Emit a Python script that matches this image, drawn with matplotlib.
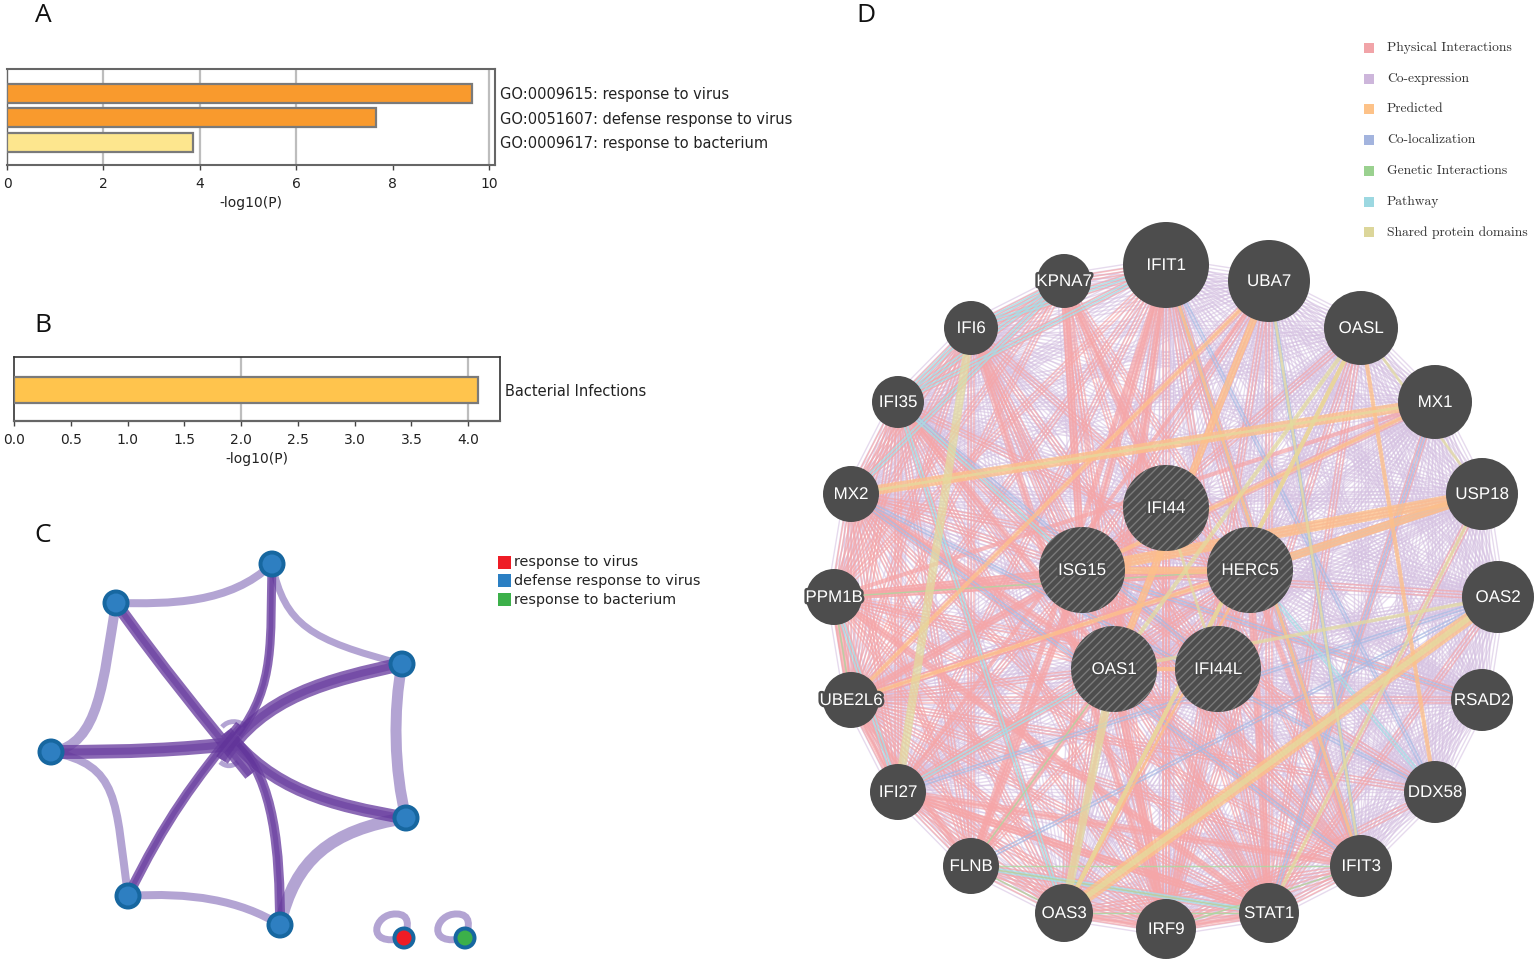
import matplotlib
matplotlib.use("Agg")
import matplotlib.pyplot as plt
import matplotlib.patheffects as pe
from matplotlib.collections import LineCollection
from matplotlib.patches import Circle, PathPatch, Rectangle
from matplotlib.path import Path
import numpy as np

# ---------- data ----------
go_terms = ["GO:0009615: response to virus", "GO:0051607: defense response to virus", "GO:0009617: response to bacterium"]
go_values = [9.65, 7.66, 3.86]
go_colors = ["#F99A2D", "#F99A2D", "#FDE68E"]
go_ticks = [0, 2, 4, 6, 8, 10]
kegg_terms = ["Bacterial Infections"]
kegg_values = [4.09]
kegg_ticks = [0, 0.5, 1, 1.5, 2, 2.5, 3, 3.5, 4]

c_nodes = [(272, 564), (116, 603), (402, 664), (51, 752), (406, 818), (128, 896), (280, 925)]
c_light = [
    (1, 0, (170, 604), (230, 604), 8), (0, 2, (285, 625), (310, 640), 7), (2, 4, (393, 710), (394, 770), 11),
    (4, 6, (330, 830), (295, 860), 12), (6, 5, (240, 900), (190, 892), 8), (5, 3, (115, 800), (120, 765), 8),
    (3, 1, (100, 745), (103, 680), 10),
]
# node, control 1, control 2, meeting point near the hub, width
c_dark = [
    (1, (160, 665), (205, 720), (250, 775), 12), (4, (330, 805), (272, 790), (226, 732), 13),
    (3, (130, 752), (180, 750), (240, 743), 14), (2, (330, 680), (262, 695), (222, 760), 14),
    (0, (270, 640), (276, 685), (238, 735), 9), (5, (165, 820), (195, 780), (240, 725), 10),
    (6, (280, 850), (274, 780), (238, 744), 10),
]
c_hub_loops = [((222, 727), (228, 720), (238, 720), (246, 726)), ((220, 762), (226, 767), (232, 767), (238, 762))]
c_loops = [(404, 938, "#EE1C25"), (465, 938, "#3CB04A")]
c_legend = [("response to virus", "#EE1C25"), ("defense response to virus", "#2B7FC3"), ("response to bacterium", "#3CB04A")]

genes = ["IFIT1", "UBA7", "OASL", "MX1", "USP18", "OAS2", "RSAD2", "DDX58", "IFIT3", "STAT1", "IRF9", "OAS3", "FLNB",
         "IFI27", "UBE2L6", "PPM1B", "MX2", "IFI35", "IFI6", "KPNA7", "IFI44", "ISG15", "HERC5", "OAS1", "IFI44L"]
gene_x = [1166, 1269, 1361, 1435, 1482, 1498, 1482, 1435, 1361, 1269, 1166, 1064, 971, 898, 851, 834, 851, 898, 971, 1064,
          1166, 1082, 1250, 1114, 1218]
gene_y = [265, 281, 328, 402, 494, 597, 700, 792, 866, 913, 929, 913, 866, 792, 700, 597, 494, 402, 328, 281,
          508, 570, 570, 669, 669]
gene_r = [43, 41, 37, 37, 36, 36, 31, 31, 31, 30, 30, 29, 28, 28, 28, 28, 28, 26, 27, 27, 43, 43, 43, 43, 43]
query_genes = ["IFI44", "ISG15", "HERC5", "OAS1", "IFI44L"]
letters = "ABCDEFGHIJKLMNOPQRSTUVWXY"

coexpression = ["A:BCDEFGHIJKLNOQRSUVWXY", "B:CDEFGHIJKLNOQRSUVWXY", "C:DEFGHIJKLNOQRSUVWXY", "D:EFGHIJKLNOQRSUVWXY",
                "E:FGHIJKLNOQRSUVWXY", "F:GHIJKLNOQRSUVWXY", "G:HIJKLNOQRSUVWXY", "H:IJKLNOQRSUVWXY", "I:JKLNOQRSUVWXY",
                "J:KLNOQRSUVWXY", "K:LNOQRSUVWXY", "L:NOQRSUVWXY", "N:OQRSUVWXY", "O:QRSUVWXY", "Q:RSUVWXY", "R:SUVWXY",
                "S:UVWXY", "U:VWXY", "V:WXY", "W:XY", "X:Y", "T:ABQRSUV", "M:LNOKJRS", "P:NOQRSGH"]
physical = ["A:IJKLNOPRSTVWX", "B:JKOVX", "C:JKV", "D:JV", "E:VJO", "F:JV", "G:VO",
            "H:KVO", "I:JKLNOPQRSTVX", "J:KLMNOPQRSTVWXY", "K:LMNOPQRSTVWXY", "L:MNOPQRVW", "M:NOQRSVWX",
            "N:OPQRVWXJ", "O:PQRSTVWX", "P:QRSTVWXY", "Q:RSTVWX", "R:STVWX", "S:TVWX", "T:VWXU", "V:WXY", "W:XY", "U:VK"]
physical_thick = [("V", "M", 4), ("V", "T", 5), ("V", "O", 4), ("V", "P", 5), ("X", "K", 5), ("X", "L", 3), ("X", "M", 4),
                  ("W", "I", 4), ("W", "J", 4), ("U", "T", 3), ("A", "V", 3), ("A", "X", 3), ("P", "J", 4), ("P", "W", 5),
                  ("P", "D", 3), ("N", "J", 4), ("N", "I", 3), ("M", "A", 4), ("O", "P", 5), ("L", "K", 3), ("K", "J", 3),
                  ("O", "N", 3), ("O", "M", 3), ("B", "N", 3), ("S", "K", 3), ("R", "X", 3), ("Q", "X", 3)]
colocalization = ["A:IH", "B:I", "D:J", "E:W", "F:M", "I:Q", "N:F", "G:V", "H:Q", "Y:R"]
pathway = ["T:RSQ", "S:AR", "R:V", "A:R", "N:X", "M:J", "H:W", "L:R", "P:N"]
genetic = ["M:JLI", "P:OW", "M:X", "L:J", "K:I"]
predicted_thick = [("D", "Q", 7), ("E", "V", 8), ("W", "E", 6), ("F", "L", 9), ("B", "X", 5), ("C", "L", 3), ("O", "W", 3),
                   ("A", "I", 2.5), ("C", "H", 3), ("V", "W", 5), ("X", "Y", 3), ("B", "O", 3), ("D", "V", 3), ("L", "W", 2)]
domain_thick = [("S", "N", 6), ("X", "L", 6), ("F", "L", 4), ("C", "L", 3), ("D", "Q", 2), ("U", "Y", 2), ("C", "X", 3),
                ("C", "E", 2), ("E", "J", 2.5), ("F", "X", 2.5), ("B", "I", 2)]
d_legend = [("Physical Interactions", "#F1A4A8"), ("Co-expression", "#CDB6DB"), ("Predicted", "#FDC288"),
            ("Co-localization", "#A3B4DE"), ("Genetic Interactions", "#9AD18F"), ("Pathway", "#9CD8E1"),
            ("Shared protein domains", "#DCD69A")]
panel_letters = [("A", 43, 15), ("B", 43, 325), ("C", 43, 536), ("D", 866, 15)]

# ---------- figure ----------
W, H = 1535, 960
fig = plt.figure(figsize=(W / 100, H / 100), dpi=100)
plt.rcParams["hatch.linewidth"] = 1.0

bg = fig.add_axes([0, 0, 1, 1])
bg.set_xlim(0, W)
bg.set_ylim(H, 0)
bg.axis("off")


def px_axes(l, t, r, b):
    return fig.add_axes([l / W, 1 - b / H, (r - l) / W, (b - t) / H])


def bar_panel(ax, terms, values, colors, ticks, height, tickfmt):
    y = np.arange(len(terms))
    ax.grid(axis="x", color="#bdbdbd", lw=1.6, zorder=0)
    ax.set_axisbelow(True)
    ax.barh(y, values, height=height, color=colors, edgecolor="#7a7a7a", lw=1.6, zorder=3)
    ax.set_xticks(ticks)
    ax.set_xticklabels([tickfmt % t for t in ticks], fontsize=10, color="#222222")
    ax.yaxis.tick_right()
    ax.set_yticks(y)
    ax.set_yticklabels(terms, fontsize=10.5, color="#222222")
    ax.tick_params(axis="y", length=0, pad=3.6)
    ax.tick_params(axis="x", length=3.5, width=1, color="#444444", pad=5)
    ax.set_xlabel("-log10(P)", fontsize=10, color="#222222", labelpad=3.5)


# Panel A
axA = px_axes(7, 69, 495, 165)
bar_panel(axA, go_terms, go_values, go_colors, go_ticks, 0.78, "%d")
axA.set_xlim(0, 10.12)
axA.set_ylim(2.94, -1.0)
for s in axA.spines.values():
    s.set_color("#666666")
    s.set_linewidth(1.5)
axA.spines["left"].set_linewidth(1.0)

# Panel B
axB = px_axes(14, 357, 500, 421)
bar_panel(axB, kegg_terms, kegg_values, ["#FFC44D"], kegg_ticks, 0.52, "%.1f")
axB.set_xlim(0, 4.28)
axB.set_ylim(0.62, -0.66)
axB.set_xticks([2, 4], minor=False) if False else None
for s in axB.spines.values():
    s.set_color("#333333")
    s.set_linewidth(1.2)
axB.spines["bottom"].set_color("#666666")
axB.spines["bottom"].set_linewidth(1.6)
for gl, t in zip(axB.get_xgridlines(), kegg_ticks):
    gl.set_visible(t in (2, 4))
for gl, t in zip(axA.get_xgridlines(), go_ticks):
    gl.set_visible(t in (2, 4, 6, 10))


# Panel C
def bez(p0, c1, c2, p1):
    return Path([p0, c1, c2, p1], [Path.MOVETO, Path.CURVE4, Path.CURVE4, Path.CURVE4])


for a, b, c1, c2, w in c_light:
    bg.add_patch(PathPatch(bez(c_nodes[a], c1, c2, c_nodes[b]), fc="none", ec="#B3A4D3", lw=w * 0.72,
                           capstyle="butt", zorder=2))
for p in c_hub_loops:
    bg.add_patch(PathPatch(bez(*p), fc="none", ec="#B3A4D3", lw=3.5, capstyle="butt", zorder=2))
for n, c1, c2, hub, w in c_dark:
    bg.add_patch(PathPatch(bez(c_nodes[n], c1, c2, hub), fc="none", ec="#6A3FA0", lw=w * 0.72, alpha=0.78,
                           capstyle="butt", zorder=3))
    bg.add_patch(PathPatch(bez(c_nodes[n], c1, c2, hub), fc="none", ec="#5B2C96", lw=w * 0.36, alpha=0.45,
                           capstyle="butt", zorder=3))
for x, y in c_nodes:
    bg.add_patch(Circle((x, y), 13.5, fc="#1767A0", ec="none", zorder=5))
    bg.add_patch(Circle((x, y), 9.5, fc="#2E7FC1", ec="none", zorder=6))
for x, y, col in c_loops:
    verts = [(x, y), (x - 40, y + 10), (x - 30, y - 25), (x - 8, y - 24), (x + 6, y - 24), (x + 5, y - 12), (x, y)]
    bg.add_patch(PathPatch(Path(verts, [Path.MOVETO] + [Path.CURVE4] * 6), fc="none", ec="#B3A4D3", lw=5, zorder=2))
    bg.add_patch(Circle((x, y), 11.5, fc="#1767A0", ec="none", zorder=5))
    bg.add_patch(Circle((x, y), 7.5, fc=col, ec="none", zorder=6))
for i, (lab, col) in enumerate(c_legend):
    yc = 562 + i * 18.8
    bg.add_patch(Rectangle((498, yc - 6.5), 13, 13, fc=col, ec="none"))
    bg.text(514, yc, lab, fontsize=10.4, va="center", ha="left", color="#222222")

# Panel D
pos = {l: (gene_x[i], gene_y[i]) for i, l in enumerate(letters)}


def parse(adj):
    return [(s[0], t) for s in adj for t in s[2:]]


def add_edges(pairs, color, lw, alpha, n, gap, z):
    segs = []
    lws = []
    for p in pairs:
        a, b = np.array(pos[p[0]], float), np.array(pos[p[1]], float)
        w = p[2] if len(p) > 2 else lw
        count = n if len(p) == 2 else 1
        d = (b - a) / np.linalg.norm(b - a)
        nrm = np.array([-d[1], d[0]])
        for k in range(count):
            off = (k - (count - 1) / 2) * gap
            segs.append([a + nrm * off, b + nrm * off])
            lws.append(w)
    bg.add_collection(LineCollection(segs, colors=color, linewidths=lws, alpha=alpha, zorder=z, capstyle="butt"))


add_edges(parse(coexpression), "#D6C2E2", 1.0, 0.6, 5, 3.5, 2)
add_edges(parse(colocalization), "#A9BBE4", 1.2, 0.75, 2, 3, 2.5)
add_edges(parse(pathway), "#A6DDE6", 1.2, 0.8, 2, 3, 2.5)
add_edges(parse(physical), "#F6A6A8", 1.1, 0.68, 3, 3.0, 2.4)
add_edges(physical_thick, "#F6A6A8", 1, 0.72, 1, 0, 2.4)
add_edges(parse(genetic), "#A8DCA0", 1.0, 0.8, 1, 0, 2.6)
add_edges(predicted_thick, "#FDC08A", 1, 0.78, 1, 0, 2.7)
add_edges(domain_thick, "#E3DC9E", 1, 0.72, 1, 0, 2.8)

for g, x, y, r in zip(genes, gene_x, gene_y, gene_r):
    q = g in query_genes
    bg.add_patch(Circle((x, y), r, fc="#4D4D4D", ec="#7A7A7A" if q else "#4D4D4D", lw=0,
                        hatch="////" if q else None, zorder=8))
    t = bg.text(x, y + 0.5, g, color="white", fontsize=12.2, family="Liberation Sans", ha="center", va="center", zorder=9)
    t.set_path_effects([pe.withStroke(linewidth=3.5, foreground="#4D4D4D")])

for i, (lab, col) in enumerate(d_legend):
    yc = 48 + i * 30.7
    bg.add_patch(Rectangle((1363.5, yc - 5), 10, 10, fc=col, ec="none"))
    bg.text(1387, yc, lab, fontsize=9.75, family="cmr10", va="center", ha="left", color="#333333")

for lab, x, y in panel_letters:
    bg.text(x, y, lab, fontsize=19, family="Open Sans", ha="center", va="center", color="#111111")

fig.savefig("out.png", dpi=100)
